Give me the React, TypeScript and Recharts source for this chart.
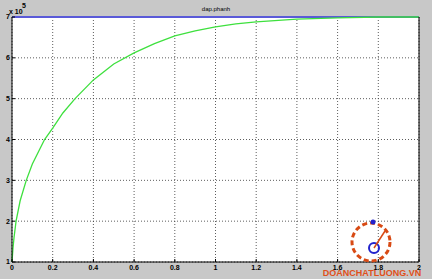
import React from "react";
import { LineChart, Line, XAxis, YAxis, CartesianGrid } from "recharts";

const xValues = [0, 0.005, 0.01, 0.02, 0.04, 0.07, 0.1, 0.16, 0.2, 0.25, 0.31, 0.4, 0.5, 0.6, 0.7, 0.8, 0.9, 1.0, 1.1, 1.2, 1.4, 1.6, 1.8, 2.0];
const greenValues = [100000, 135000, 160000, 200000, 250000, 300000, 340000, 400000, 428000, 465000, 500000, 546000, 585000, 612000, 635000, 654000, 666000, 676000, 683000, 688000, 695000, 698000, 700000, 700000];
const blueValues = [700000, 700000, 700000, 700000, 700000, 700000, 700000, 700000, 700000, 700000, 700000, 700000, 700000, 700000, 700000, 700000, 700000, 700000, 700000, 700000, 700000, 700000, 700000, 700000];
const xTicks = [0, 0.2, 0.4, 0.6, 0.8, 1, 1.2, 1.4, 1.6, 1.8, 2];
const yTicks = [100000, 200000, 300000, 400000, 500000, 600000, 700000];
const title = "dap.phanh";

const data = xValues.map((x, i) => ({ x, green: greenValues[i], blue: blueValues[i] }));

const FONT = "'Liberation Sans', Arial, sans-serif";

export default function App() {
  return (
    <div style={{ position: "absolute", left: 0, top: 0, width: 432, height: 279, background: "#c8c8c8" }}>
      <LineChart width={432} height={279} data={data} margin={{ top: 16, right: 12, left: 0, bottom: 0 }}>
        <CartesianGrid fill="#ffffff" fillOpacity={1} stroke="#333" strokeDasharray="1 2" strokeWidth={0.8} />
        <XAxis
          dataKey="x"
          type="number"
          domain={[0, 2]}
          ticks={xTicks}
          height={17}
          stroke="#000"
          tickSize={-3}
          tickMargin={6}
          tick={{ fontSize: 7, fill: "#000", fontFamily: FONT, fontWeight: "bold" }}
        />
        <XAxis xAxisId="top" orientation="top" dataKey="x" type="number" domain={[0, 2]} ticks={xTicks} height={1} axisLine={false} tickLine={{ stroke: "#000" }} tickSize={-3} tick={false} />
        <YAxis
          type="number"
          domain={[100000, 700000]}
          ticks={yTicks}
          width={12}
          stroke="#000"
          tickSize={-3}
          tickMargin={5}
          tickFormatter={(v: number) => String(v / 100000)}
          tick={{ fontSize: 7, fill: "#000", fontFamily: FONT, fontWeight: "bold" }}
        />
        <YAxis yAxisId="right" orientation="right" type="number" domain={[100000, 700000]} ticks={yTicks} width={1} stroke="#000" tickSize={-3} tick={false} />
        <Line dataKey="blue" stroke="#5a5ad8" strokeWidth={2} dot={false} isAnimationActive={false} type="linear" />
        <Line dataKey="green" stroke="#3ee03e" strokeWidth={1.3} dot={false} isAnimationActive={false} type="linear" />
        <text x={216} y={11} textAnchor="middle" fontSize={6} fontFamily={FONT} fill="#000">{title}</text>
        <text x={9} y={14} fontSize={7} fontFamily={FONT} fill="#000" fontWeight="bold">x 10</text>
        <text x={22} y={8} fontSize={7} fontFamily={FONT} fill="#000" fontWeight="bold">5</text>
      </LineChart>
      <svg width={432} height={279} style={{ position: "absolute", left: 0, top: 0, pointerEvents: "none" }}>
        <circle cx={371} cy={242} r={19} fill="none" stroke="#d84a14" strokeWidth={3} strokeDasharray="5 3" />
        <circle cx={374} cy={248} r={5} fill="none" stroke="#2222cc" strokeWidth={2} />
        <circle cx={373} cy={222} r={2.5} fill="#2222cc" />
        <line x1={374} y1={248} x2={385} y2={231} stroke="#d84a14" strokeWidth={1.5} />
        <text x={372} y={276} textAnchor="middle" fontSize={9} fontWeight="bold" fontFamily={FONT} fill="#e0501a">DOANCHATLUONG.VN</text>
      </svg>
    </div>
  );
}
